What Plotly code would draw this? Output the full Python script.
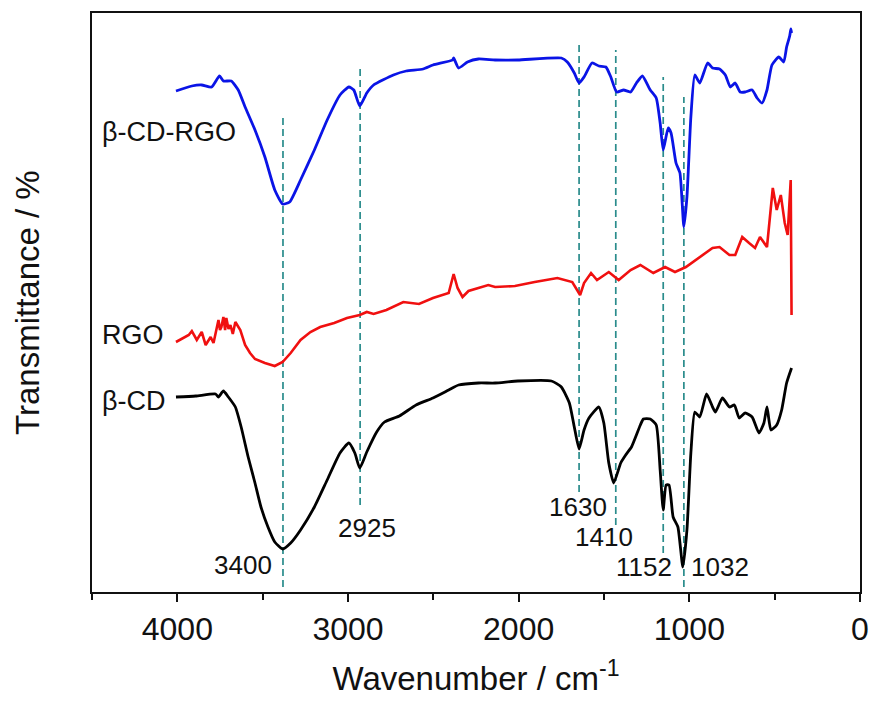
import plotly.graph_objects as go

# ---- data (wavenumber cm^-1, transmittance a.u.) ----
cdrgo_wn = [4008, 3915, 3857, 3799, 3753, 3730, 3684, 3643, 3603, 3545, 3487, 3429, 3383, 3342, 3278,
            3197, 3122, 3047, 2995, 2966, 2931, 2890, 2850, 2734, 2659, 2560, 2502, 2387, 2381, 2352,
            2300, 2236, 2138, 2005, 1750, 1715, 1674, 1646, 1617, 1570, 1530, 1489, 1460, 1426, 1385,
            1344, 1310, 1275, 1229, 1194, 1171, 1153, 1124, 1107, 1078, 1055, 1032, 1014, 991, 968,
            939, 893, 864, 823, 789, 760, 731, 702, 673, 632, 603, 574, 545, 516, 476, 447, 430, 412, 405, 401]
cdrgo_t = [501, 506, 507, 505, 516, 511, 511, 502, 485, 462, 435, 402, 388, 390, 412,
           442, 472, 497, 505, 502, 486, 499, 507, 517, 521, 523, 527, 532, 534, 524,
           530, 533, 532, 532, 534, 530, 519, 509, 515, 529, 526, 525, 515, 500, 502,
           500, 509, 516, 502, 494, 469, 442, 464, 459, 429, 419, 365, 395, 475, 517,
           509, 529, 524, 523, 517, 505, 509, 500, 500, 502, 494, 489, 502, 527, 535, 530, 545, 556, 563, 559]

rgo_wn = [4008, 3933, 3915, 3886, 3857, 3834, 3805, 3788, 3759, 3750, 3742, 3730, 3720, 3713, 3700,
          3689, 3675, 3660, 3631, 3603, 3574, 3545, 3487, 3429, 3383, 3336, 3278, 3220, 3163, 3081,
          3006, 2931, 2890, 2850, 2775, 2676, 2584, 2502, 2410, 2381, 2358, 2329, 2294, 2236, 2178,
          2138, 2022, 1906, 1773, 1686, 1640, 1617, 1576, 1541, 1472, 1414, 1344, 1287, 1211, 1142,
          1084, 1020, 939, 864, 823, 765, 731, 690, 650, 615, 586, 545, 511, 488, 464, 441, 424, 418, 406, 401]
rgo_t = [250, 257, 261, 252, 260, 247, 255, 249, 272, 262, 265, 275, 262, 274, 263,
         267, 258, 270, 262, 247, 239, 233, 229, 226, 230, 239, 252, 260, 265, 269,
         274, 277, 280, 278, 282, 290, 288, 294, 299, 318, 304, 295, 301, 304, 307,
         305, 306, 310, 314, 310, 297, 309, 319, 312, 320, 312, 322, 327, 319, 325,
         320, 325, 335, 344, 345, 337, 337, 355, 349, 344, 355, 345, 404, 382, 397, 369, 357, 375, 412, 277]

cd_wn = [4008, 3892, 3776, 3759, 3730, 3701, 3660, 3626, 3585, 3545, 3510, 3469, 3429, 3383, 3336,
         3278, 3197, 3122, 3047, 2995, 2960, 2931, 2890, 2832, 2786, 2699, 2601, 2502, 2410, 2352,
         2236, 2138, 2005, 1808, 1750, 1703, 1674, 1646, 1617, 1588, 1530, 1501, 1472, 1443, 1402,
         1373, 1339, 1287, 1269, 1229, 1194, 1171, 1153, 1136, 1119, 1095, 1067, 1038, 1014, 991,
         968, 939, 899, 864, 847, 806, 765, 736, 708, 673, 632, 592, 563, 545, 522, 488, 459, 430, 401]
cd_t = [195, 196, 198, 195, 201, 195, 185, 165, 135, 109, 85, 65, 50, 43, 49,
        62, 85, 112, 139, 149, 139, 124, 140, 160, 170, 176, 187, 194, 202, 207,
        209, 209, 211, 211, 205, 189, 165, 143, 162, 174, 185, 169, 129, 109, 129,
        137, 145, 167, 173, 173, 167, 122, 82, 107, 107, 75, 65, 25, 62, 139,
        180, 175, 198, 185, 180, 194, 185, 187, 174, 179, 175, 159, 169, 185, 162, 167, 182, 209, 224]

peak_pos = [3381, 2929, 1646, 1431, 1153, 1032]
peak_top = [478, 523, 550, 542, 515, 495]
peak_bottom = [5, 87, 100, 67, 39, 5]

peak_labels = ["3400", "2925", "1630", "1410", "1152", "1032"]
label_x = [3614, 2890, 1651, 1501, 1263, 823]
label_y = [27, 64, 85, 55, 25, 25]

series_names = ["β-CD-RGO", "RGO", "β-CD"]
name_x = [4454, 4454, 4454]
name_y = [460, 257, 191]

FONT = "Arial, Liberation Sans, sans-serif"

fig = go.Figure()

# dashed reference lines
for p, t, b in zip(peak_pos, peak_top, peak_bottom):
    fig.add_trace(go.Scatter(x=[p, p], y=[b, t], mode="lines",
                             line=dict(color="#2a8c8c", width=1.7, dash="7px,4px"),
                             showlegend=False, hoverinfo="skip"))

fig.add_trace(go.Scatter(x=cdrgo_wn, y=cdrgo_t, mode="lines", name=series_names[0],
                         line=dict(color="#0a14e6", width=2.8, shape="spline", smoothing=0.5),
                         showlegend=False))
fig.add_trace(go.Scatter(x=rgo_wn, y=rgo_t, mode="lines", name=series_names[1],
                         line=dict(color="#f01010", width=2.6), showlegend=False))
fig.add_trace(go.Scatter(x=cd_wn, y=cd_t, mode="lines", name=series_names[2],
                         line=dict(color="#000000", width=2.8, shape="spline", smoothing=0.5),
                         showlegend=False))

for txt, x, y in zip(peak_labels, label_x, label_y):
    fig.add_annotation(x=x, y=y, xref="x", yref="y", text=txt, showarrow=False,
                       font=dict(family=FONT, size=26, color="#111"),
                       xanchor="center", yanchor="middle")

for txt, x, y in zip(series_names, name_x, name_y):
    fig.add_annotation(x=x, y=y, xref="x", yref="y", text=txt, showarrow=False,
                       font=dict(family=FONT, size=27, color="#111"),
                       xanchor="left", yanchor="middle")

fig.add_annotation(x=-0.084, y=0.5, xref="paper", yref="paper", text="Transmittance / %",
                   textangle=-90, showarrow=False,
                   font=dict(family=FONT, size=33, color="#111"),
                   xanchor="center", yanchor="middle")

fig.update_layout(
    width=880, height=705,
    margin=dict(l=92, r=11, t=13, b=113),
    paper_bgcolor="white", plot_bgcolor="white",
    font=dict(family=FONT, color="#111"),
    xaxis=dict(range=[4500, 0], tick0=0, dtick=1000, ticks="outside", ticklen=8, tickwidth=2,
               tickcolor="#111", showline=True, linecolor="#111", linewidth=2, mirror=True,
               showgrid=False, zeroline=False,
               tickfont=dict(family=FONT, size=32, color="#111"),
               minor=dict(dtick=500, ticks="outside", ticklen=6, tickwidth=2, tickcolor="#111", showgrid=False),
               title=dict(text="Wavenumber / cm<sup>-1</sup>", font=dict(family=FONT, size=33, color="#111"),
                          standoff=20)),
    yaxis=dict(range=[0, 579], showticklabels=False, ticks="", showline=True, linecolor="#111",
               linewidth=2, mirror=True, showgrid=False, zeroline=False),
)

fig.write_html("out.html")
